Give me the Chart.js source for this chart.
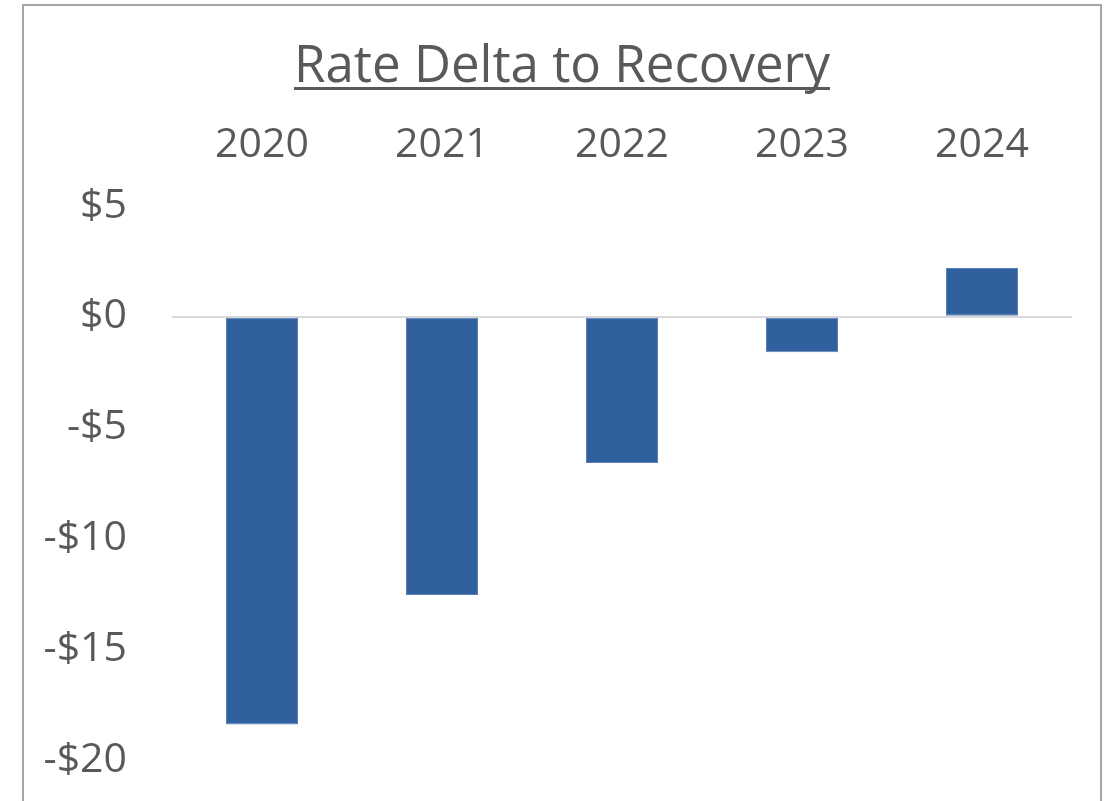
<!DOCTYPE html>
<html>
<head>
  <meta charset="utf-8">
  <title>Rate Delta to Recovery</title>
  <script src="https://cdn.jsdelivr.net/npm/chart.js@4.4.1/dist/chart.umd.min.js"></script>
  <style>
    html, body { margin: 0; padding: 0; background: #fff; }
    #wrap { width: 1110px; height: 801px; }
  </style>
</head>
<body>
  <div id="wrap">
    <canvas id="rateChart" width="1110" height="801"></canvas>
  </div>

  <script>
    const titleText = 'Rate Delta to Recovery';
    const years = ['2020', '2021', '2022', '2023', '2024'];
    const rateDelta = [-18.4, -12.55, -6.6, -1.6, 2.2];
    const yTicks = [5, 0, -5, -10, -15, -20];

    const textColor = '#595959';
    const fontFamily = '"Open Sans", "Liberation Sans", sans-serif';

    // outer frame + underlined title, drawn straight on the canvas
    const frameAndTitle = {
      id: 'frameAndTitle',
      beforeDraw(chart) {
        const ctx = chart.ctx;
        ctx.save();
        ctx.strokeStyle = '#a6a6a6';
        ctx.lineWidth = 2;
        ctx.beginPath();
        ctx.moveTo(23, 820);
        ctx.lineTo(23, 5);
        ctx.lineTo(1101, 5);
        ctx.lineTo(1101, 820);
        ctx.stroke();

        ctx.font = '51px ' + fontFamily;
        ctx.fillStyle = textColor;
        ctx.textAlign = 'center';
        ctx.textBaseline = 'alphabetic';
        const cx = 562;
        const baseY = 82;
        ctx.fillText(titleText, cx, baseY);
        const w = ctx.measureText(titleText).width;
        ctx.fillRect(cx - w / 2, baseY + 5, w, 3);
        ctx.restore();
      }
    };

    // drop the label overflow padding so the plot area is set by layout.padding alone
    function noEdgePadding(scale) {
      scale.paddingTop = 0;
      scale.paddingBottom = 0;
      scale.paddingLeft = 0;
      scale.paddingRight = 0;
    }

    new Chart(document.getElementById('rateChart'), {
      type: 'bar',
      data: {
        labels: years,
        datasets: [{
          data: rateDelta,
          backgroundColor: '#31609e',
          borderColor: '#5b80b3',
          borderWidth: 1,
          borderSkipped: false,
          categoryPercentage: 1,
          barPercentage: 0.4
        }]
      },
      options: {
        responsive: false,
        animation: false,
        events: [],
        layout: { padding: { top: 100, right: 38, bottom: 41, left: 0 } },
        plugins: {
          legend: { display: false },
          title: { display: false },
          tooltip: { enabled: false }
        },
        scales: {
          x: {
            position: 'top',
            grid: { display: false, drawTicks: false },
            border: { display: false },
            ticks: {
              color: textColor,
              font: { family: fontFamily, size: 41 },
              padding: 36,
              maxRotation: 0
            },
            afterFit(scale) {
              scale.height = 106;
              noEdgePadding(scale);
            }
          },
          y: {
            min: -20,
            max: 5,
            afterBuildTicks(scale) {
              scale.ticks = yTicks.map(v => ({ value: v }));
            },
            grid: {
              drawTicks: false,
              color: ctx => (ctx.tick && ctx.tick.value === 0) ? '#d9d9d9' : 'rgba(0,0,0,0)',
              lineWidth: 2
            },
            border: { display: false },
            ticks: {
              color: textColor,
              font: { family: fontFamily, size: 41 },
              padding: 45,
              callback: v => (v < 0 ? '-$' + Math.abs(v) : '$' + v)
            },
            afterFit(scale) {
              scale.width = 172;
              noEdgePadding(scale);
            }
          }
        }
      },
      plugins: [frameAndTitle]
    });
  </script>
</body>
</html>
